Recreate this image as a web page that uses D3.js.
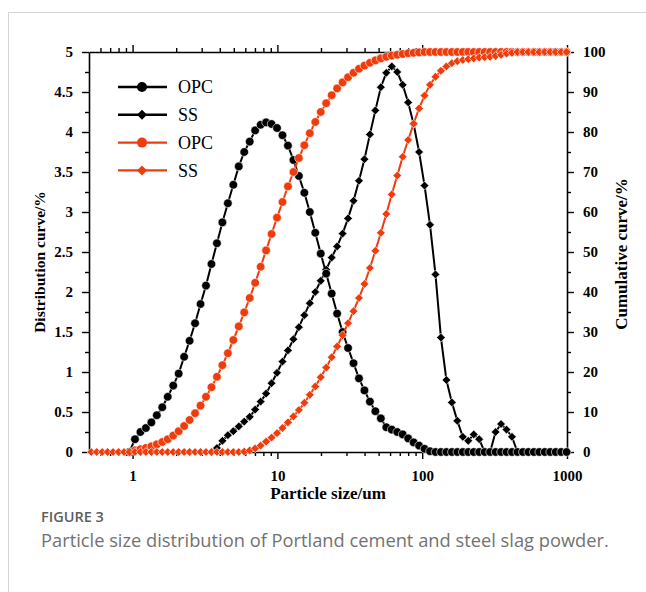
<!DOCTYPE html>
<html>
<head>
<meta charset="utf-8">
<script src="https://cdn.jsdelivr.net/npm/d3@7"></script>
<style>
  body { margin: 0; background: #fff; }
  svg { display: block; }
</style>
</head>
<body>
<svg id="chart" width="646" height="592"></svg>
<script>
// Particle size classes (um), one per measured channel
const sizes = [
  0.5182, 0.5653, 0.6166, 0.6726, 0.7337, 0.8003, 0.8728, 0.9520, 1.0385, 1.1327,
  1.2355, 1.3477, 1.4700, 1.6032, 1.7490, 1.9078, 2.0806, 2.2699, 2.4757, 2.7004,
  2.9458, 3.2132, 3.5049, 3.8237, 4.1707, 4.5494, 4.9624, 5.4126, 5.9020, 6.4387,
  7.0229, 7.6603, 8.3560, 9.1136, 9.9403, 10.845, 11.828, 12.901, 14.074, 15.351,
  16.743, 18.265, 19.922, 21.727, 23.707, 25.857, 28.200, 30.761, 33.551, 36.594,
  39.921, 43.541, 47.488, 51.809, 56.508, 61.631, 67.237, 73.333, 79.983, 87.260,
  95.172, 103.80, 113.24, 123.51, 134.71, 146.96, 160.29, 174.82, 190.72, 208.02,
  226.88, 247.52, 269.97, 294.44, 321.22, 350.35, 382.12, 416.87, 454.67, 495.90,
  541.00, 590.06, 643.57, 702.11, 765.77, 835.21, 911.15, 993.80
];

// Distribution curve (%), Portland cement
const opcDist = [
  null, null, null, null, null, null, null, 0, 0.16, 0.25,
  0.30, 0.37, 0.46, 0.56, 0.69, 0.83, 0.98, 1.19, 1.39, 1.61,
  1.85, 2.08, 2.35, 2.61, 2.87, 3.11, 3.34, 3.57, 3.75, 3.88,
  4.02, 4.09, 4.12, 4.10, 4.05, 3.96, 3.83, 3.65, 3.45, 3.24,
  3.00, 2.74, 2.48, 2.23, 1.98, 1.73, 1.50, 1.30, 1.11, 0.92,
  0.77, 0.63, 0.51, 0.42, 0.31, 0.28, 0.25, 0.22, 0.17, 0.12,
  0.08, 0.04, 0.01, 0, 0, 0, 0, 0, 0, 0,
  0, 0, 0, 0, 0, 0, 0, 0, 0, 0,
  0, 0, 0, 0, 0, 0, 0, 0
];

// Distribution curve (%), steel slag powder
const ssDist = [
  null, null, null, null, null, null, null, null, null, null,
  null, null, null, null, null, null, null, null, null, null,
  null, null, 0, 0.05, 0.14, 0.21, 0.26, 0.32, 0.38, 0.44,
  0.53, 0.63, 0.73, 0.86, 0.99, 1.13, 1.27, 1.41, 1.56, 1.71,
  1.86, 2.00, 2.14, 2.28, 2.43, 2.57, 2.73, 2.92, 3.14, 3.39,
  3.66, 3.97, 4.27, 4.56, 4.74, 4.82, 4.75, 4.59, 4.37, 4.10,
  3.75, 3.33, 2.84, 2.22, 1.43, 0.90, 0.62, 0.39, 0.19, 0.14,
  0.22, 0.16, 0, 0, 0.25, 0.35, 0.28, 0.19, 0, null,
  null, null, null, null, null, null, null, null
];

// Cumulative curve (%), Portland cement
const opcCum = [
  null, null, null, null, null, null, null, null, 0.4, 0.7,
  1.0, 1.4, 1.9, 2.5, 3.2, 4.1, 5.2, 6.5, 8.0, 9.7,
  11.6, 13.8, 16.2, 18.8, 21.7, 24.7, 28.0, 31.4, 34.9, 38.5,
  42.3, 46.3, 50.4, 54.5, 58.6, 62.5, 66.4, 70.0, 73.5, 76.7,
  79.7, 82.5, 85.0, 87.2, 89.2, 90.9, 92.4, 93.7, 94.8, 95.8,
  96.6, 97.3, 97.9, 98.4, 98.8, 99.1, 99.3, 99.5, 99.7, 99.8,
  99.9, 100, 100, 100, 100, 100, 100, 100, 100, 100,
  100, 100, 100, 100, 100, 100, 100, 100, 100, 100,
  100, 100, 100, 100, 100, 100, 100, 100
];

// Cumulative curve (%), steel slag powder
const ssCum = [
  0, 0, 0, 0, 0, 0, 0, 0, 0, 0,
  0, 0, 0, 0, 0, 0, 0, 0, 0, 0,
  0, 0, 0, 0, 0, 0, 0, 0, 0.1, 0.4,
  0.9, 1.6, 2.6, 3.6, 4.7, 6.0, 7.4, 8.9, 10.5, 12.3,
  14.3, 16.4, 18.7, 21.1, 23.7, 26.4, 29.2, 32.2, 35.2, 38.5,
  42.0, 46.0, 50.3, 54.8, 59.5, 64.4, 69.1, 73.8, 78.0, 82.1,
  85.9, 89.1, 91.8, 93.8, 95.3, 96.4, 97.2, 97.7, 98.0, 98.2,
  98.4, 98.6, 98.7, 98.8, 99.0, 99.3, 99.6, 99.8, 100, 100,
  100, 100, 100, 100, 100, 100, 100, 100
];

// Axis ticks
const xMajorTicks = [1, 10, 100, 1000];
const xMinorTicks = [0.6, 0.7, 0.8, 0.9, 2, 3, 4, 5, 6, 7, 8, 9,
  20, 30, 40, 50, 60, 70, 80, 90, 200, 300, 400, 500, 600, 700, 800, 900];
const xTickLabels = ["1", "10", "100", "1000"];
const leftMajorTicks = [0, 0.5, 1, 1.5, 2, 2.5, 3, 3.5, 4, 4.5, 5];
const leftTickLabels = ["0", "0.5", "1", "1.5", "2", "2.5", "3", "3.5", "4", "4.5", "5"];
const leftMinorTicks = [0.25, 0.75, 1.25, 1.75, 2.25, 2.75, 3.25, 3.75, 4.25, 4.75];
const rightMajorTicks = [0, 10, 20, 30, 40, 50, 60, 70, 80, 90, 100];
const rightMinorTicks = [5, 15, 25, 35, 45, 55, 65, 75, 85, 95];

const legendLabels = ["OPC", "SS", "OPC", "SS"];

const BLACK = "#000000";
const RED = "#f03c0c";
const SERIF = "'Liberation Serif', 'Times New Roman', serif";
const SANS = "'Open Sans', 'Noto Sans', sans-serif";

const svg = d3.select("#chart");

// Light frame around the figure panel
svg.append("rect")
  .attr("x", 8.5).attr("y", 12.5)
  .attr("width", 700).attr("height", 700)
  .attr("fill", "none").attr("stroke", "#d4d4d4").attr("stroke-width", 1);

const plot = { left: 89, right: 567, top: 52, bottom: 452 };

const x = d3.scaleLog().domain([0.5, 1000]).range([plot.left, plot.right]);
const yL = d3.scaleLinear().domain([0, 5]).range([plot.bottom, plot.top]);
const yR = d3.scaleLinear().domain([0, 100]).range([plot.bottom, plot.top]);

function styleAxis(g) {
  g.selectAll("path.domain").attr("stroke", "#000").attr("stroke-width", 1.6);
  g.selectAll(".tick line").attr("stroke", "#000").attr("stroke-width", 1.4);
  g.selectAll("text")
    .attr("font-family", SERIF).attr("font-weight", "bold")
    .attr("font-size", 15).attr("fill", "#000");
}

// Bottom axis with labels
const gBottom = svg.append("g").attr("transform", `translate(0,${plot.bottom})`)
  .call(d3.axisBottom(x).tickValues(xMajorTicks).tickSize(7).tickSizeOuter(0)
    .tickPadding(11).tickFormat((d, i) => xTickLabels[i]));
svg.append("g").attr("transform", `translate(0,${plot.bottom})`)
  .call(d3.axisBottom(x).tickValues(xMinorTicks).tickSize(4).tickFormat(""))
  .call(g => g.select(".domain").remove())
  .call(styleAxis);
styleAxis(gBottom);

// Top axis, ticks only
svg.append("g").attr("transform", `translate(0,${plot.top})`)
  .call(d3.axisTop(x).tickValues(xMajorTicks).tickSize(7).tickSizeOuter(0).tickFormat(""))
  .call(styleAxis);
svg.append("g").attr("transform", `translate(0,${plot.top})`)
  .call(d3.axisTop(x).tickValues(xMinorTicks).tickSize(4).tickFormat(""))
  .call(g => g.select(".domain").remove())
  .call(styleAxis);

// Left axis
svg.append("g").attr("transform", `translate(${plot.left},0)`)
  .call(d3.axisLeft(yL).tickValues(leftMajorTicks).tickSize(7).tickSizeOuter(0)
    .tickPadding(9).tickFormat((d, i) => leftTickLabels[i]))
  .call(styleAxis);
svg.append("g").attr("transform", `translate(${plot.left},0)`)
  .call(d3.axisLeft(yL).tickValues(leftMinorTicks).tickSize(4).tickFormat(""))
  .call(g => g.select(".domain").remove())
  .call(styleAxis);

// Right axis
svg.append("g").attr("transform", `translate(${plot.right},0)`)
  .call(d3.axisRight(yR).tickValues(rightMajorTicks).tickSize(7).tickSizeOuter(0)
    .tickPadding(9).tickFormat(d => String(d)))
  .call(styleAxis);
svg.append("g").attr("transform", `translate(${plot.right},0)`)
  .call(d3.axisRight(yR).tickValues(rightMinorTicks).tickSize(4).tickFormat(""))
  .call(g => g.select(".domain").remove())
  .call(styleAxis);

// Axis titles
svg.append("text")
  .attr("x", 328).attr("y", 499)
  .attr("text-anchor", "middle")
  .attr("font-family", SERIF).attr("font-weight", "bold").attr("font-size", 17)
  .text("Particle size/um");
svg.append("text")
  .attr("transform", "translate(45,262) rotate(-90)")
  .attr("text-anchor", "middle")
  .attr("font-family", SERIF).attr("font-weight", "bold").attr("font-size", 15.5)
  .text("Distribution curve/%");
svg.append("text")
  .attr("transform", "translate(627,254) rotate(-90)")
  .attr("text-anchor", "middle")
  .attr("font-family", SERIF).attr("font-weight", "bold").attr("font-size", 17)
  .text("Cumulative curve/%");

// Series
const CIRCLE_R = 4.3;
const diamondPath = d3.symbol(d3.symbolSquare, 38)();

function drawSeries(values, yScale, color, shape) {
  const pts = sizes.map((s, i) => [s, values[i]]).filter(p => p[1] !== null);
  const line = d3.line().x(p => x(p[0])).y(p => yScale(p[1]));
  const g = svg.append("g");
  g.append("path").datum(pts)
    .attr("d", line)
    .attr("fill", "none").attr("stroke", color)
    .attr("stroke-width", 2).attr("stroke-linejoin", "round");
  if (shape === "circle") {
    g.selectAll("circle").data(pts).join("circle")
      .attr("cx", p => x(p[0])).attr("cy", p => yScale(p[1]))
      .attr("r", CIRCLE_R)
      .attr("fill", color).attr("stroke", "#fff").attr("stroke-width", 0.6);
  } else {
    g.selectAll("path.mk").data(pts).join("path")
      .attr("class", "mk")
      .attr("d", diamondPath)
      .attr("transform", p => `translate(${x(p[0])},${yScale(p[1])}) rotate(45)`)
      .attr("fill", color).attr("stroke", "#fff").attr("stroke-width", 0.6);
  }
}

drawSeries(ssDist, yL, BLACK, "diamond");
drawSeries(opcDist, yL, BLACK, "circle");
drawSeries(opcCum, yR, RED, "circle");
drawSeries(ssCum, yR, RED, "diamond");

// Legend
const legendItems = [
  { label: legendLabels[0], color: BLACK, shape: "circle" },
  { label: legendLabels[1], color: BLACK, shape: "diamond" },
  { label: legendLabels[2], color: RED, shape: "circle" },
  { label: legendLabels[3], color: RED, shape: "diamond" }
];
const legendDiamond = d3.symbol(d3.symbolSquare, 50)();
const lg = svg.append("g");
legendItems.forEach((item, i) => {
  const cy = 87 + i * 27.8;
  lg.append("line")
    .attr("x1", 118).attr("x2", 167).attr("y1", cy).attr("y2", cy)
    .attr("stroke", item.color).attr("stroke-width", 2.4);
  if (item.shape === "circle") {
    lg.append("circle").attr("cx", 142).attr("cy", cy).attr("r", 5)
      .attr("fill", item.color);
  } else {
    lg.append("path").attr("d", legendDiamond)
      .attr("transform", `translate(142,${cy}) rotate(45)`)
      .attr("fill", item.color);
  }
  lg.append("text")
    .attr("x", 178).attr("y", cy + 6.2)
    .attr("font-family", SERIF).attr("font-size", 18).attr("fill", "#000")
    .text(item.label);
});

// Caption
svg.append("text")
  .attr("x", 41).attr("y", 522)
  .attr("font-family", SANS).attr("font-weight", 600).attr("font-size", 14.5)
  .attr("fill", "#5e5e5e")
  .text("FIGURE 3");
svg.append("text")
  .attr("x", 41).attr("y", 547)
  .attr("font-family", SANS).attr("font-size", 18.3)
  .attr("fill", "#727272")
  .text("Particle size distribution of Portland cement and steel slag powder.");
</script>
</body>
</html>
